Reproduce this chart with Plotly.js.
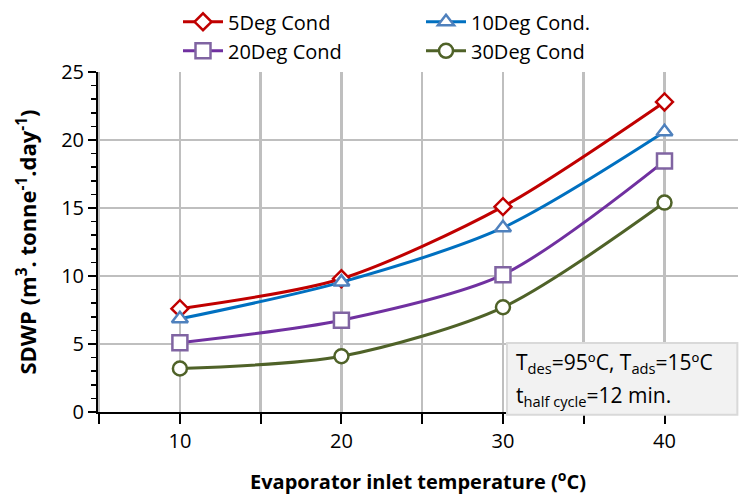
<!DOCTYPE html>
<html><head><meta charset="utf-8">
<script src="https://cdn.plot.ly/plotly-3.0.1.min.js"></script>
<style>body{margin:0;padding:0;background:#fff}</style>
</head><body><div id="chart" style="width:739px;height:496px"></div>
<script>
const evapTemp = [10, 20, 30, 40];
const cond5 = [7.6, 9.8, 15.1, 22.8];
const cond10 = [6.85, 9.55, 13.55, 20.6];
const cond20 = [5.1, 6.75, 10.1, 18.45];
const cond30 = [3.2, 4.1, 7.7, 15.4];
const seriesNames = ["5Deg Cond", "10Deg Cond.", "20Deg Cond", "30Deg Cond"];
const xTickVals = [10, 20, 30, 40];
const xTickText = ["10", "20", "30", "40"];
const noteLines = ["T<sub>des</sub>=95ºC, T<sub>ads</sub>=15ºC", "t<sub>half cycle</sub>=12 min."];

const FONT = "'Open Sans', 'Noto Sans', sans-serif";
function tr(y, name, lineColor, sym, mColor, size) {
  return {x: evapTemp, y: y, name: name, type: "scatter", mode: "lines+markers",
    line: {color: lineColor, width: 3, shape: "spline", smoothing: 0.8},
    marker: {symbol: sym, size: size, color: "#ffffff", line: {color: mColor, width: 2.5}}};
}
const data = [
  tr(cond5, seriesNames[0], "#c00000", "diamond", "#c00000", 13),
  tr(cond10, seriesNames[1], "#0070c0", "triangle-up", "#4f81bd", 14),
  tr(cond20, seriesNames[2], "#7030a0", "square", "#8064a2", 15),
  tr(cond30, seriesNames[3], "#4f6228", "circle", "#4f6228", 14)
];

const layout = {
  width: 739, height: 496,
  margin: {l: 98, r: 1, t: 72, b: 84},
  paper_bgcolor: "#ffffff", plot_bgcolor: "#ffffff",
  font: {family: FONT, size: 20, color: "#000000"},
  showlegend: true,
  legend: {orientation: "h", x: 0.125, xanchor: "left", y: 1.205, yanchor: "top",
    entrywidth: 188, entrywidthmode: "pixels", font: {size: 20, family: FONT},
    tracegroupgap: 0, itemwidth: 40},
  xaxis: {range: [4.93, 44.55], tickmode: "array", tickvals: xTickVals, ticktext: xTickText,
    showgrid: true, gridcolor: "#bfbfbf", gridwidth: 2.5,
    minor: {tick0: 0, dtick: 5, ticks: "outside", ticklen: 10, tickwidth: 2, tickcolor: "#000000",
      showgrid: true, gridcolor: "#bfbfbf", gridwidth: 2.5},
    showline: true, linecolor: "#000000", linewidth: 2,
    ticks: "outside", ticklen: 10, tickwidth: 2, tickcolor: "#000000",
    tickfont: {size: 20}, zeroline: false,
    title: {text: "<b>Evaporator inlet temperature (<sup>o</sup>C)</b>", font: {size: 20}, standoff: 22}},
  yaxis: {range: [0, 25], dtick: 5, tick0: 0,
    showgrid: true, gridcolor: "#bfbfbf", gridwidth: 2.5,
    showline: true, linecolor: "#000000", linewidth: 2,
    ticks: "outside", ticklen: 8, tickwidth: 2, tickcolor: "#000000",
    minor: {dtick: 1, ticks: "outside", ticklen: 5, tickwidth: 1.5, tickcolor: "#000000", showgrid: false},
    tickfont: {size: 20}, zeroline: false,
    title: {text: "<b>SDWP (m<sup>3</sup>. tonne<sup>-1</sup>.day<sup>-1</sup>)</b>", font: {size: 22}, standoff: 18}},
  shapes: [{type: "rect", xref: "paper", yref: "paper", x0: 0.639, x1: 0.999, y0: -0.008, y1: 0.203,
    fillcolor: "#f2f2f2", line: {color: "#d9d9d9", width: 2}, layer: "above"}],
  annotations: [
    {xref: "paper", yref: "paper", x: 0.65, y: 0.145, xanchor: "left", yanchor: "middle",
      align: "left", showarrow: false, font: {size: 21, family: FONT}, text: noteLines[0]},
    {xref: "paper", yref: "paper", x: 0.65, y: 0.047, xanchor: "left", yanchor: "middle",
      align: "left", showarrow: false, font: {size: 21, family: FONT}, text: noteLines[1]}
  ]
};
Plotly.newPlot("chart", data, layout, {displayModeBar: false, staticPlot: true});
</script></body></html>
